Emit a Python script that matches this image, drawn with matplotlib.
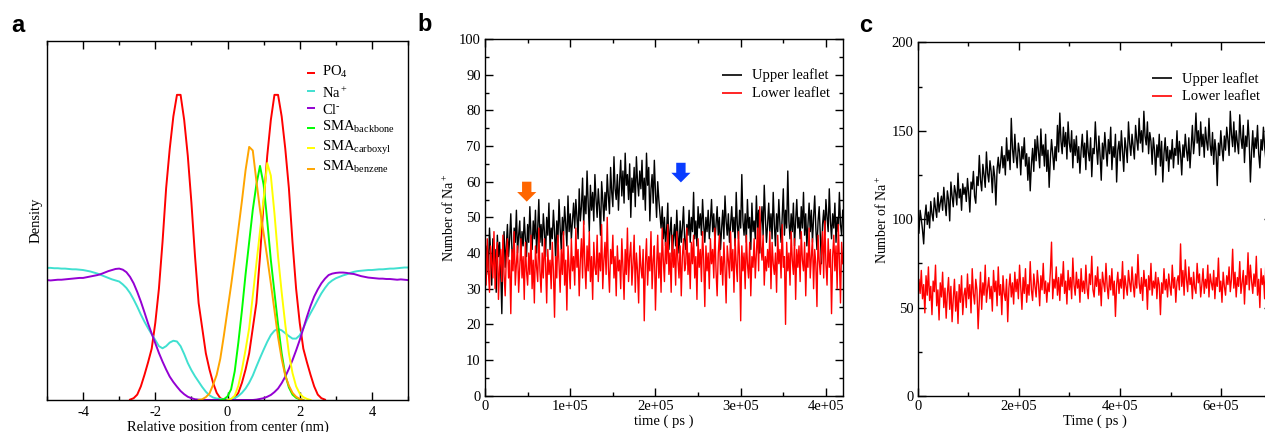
"""Three-panel figure: density profile (a) and Na+ counts per leaflet over time (b, c)."""

import matplotlib
matplotlib.use("Agg")

import matplotlib.pyplot as plt
import matplotlib.ticker as mticker
import numpy as np

plt.rcParams["font.family"] = "Liberation Serif"
plt.rcParams["mathtext.fontset"] = "custom"
plt.rcParams["mathtext.rm"] = "Liberation Serif"
plt.rcParams["mathtext.it"] = "Liberation Serif:italic"
plt.rcParams["mathtext.bf"] = "Liberation Serif:bold"
plt.rcParams["axes.unicode_minus"] = False

# ── panel a: density profiles (arbitrary units) ─────────────────────────
pos_nm = np.round(np.linspace(-5, 5, 101), 1)

na_density = [
    0.368, 0.368, 0.367, 0.367, 0.366, 0.366, 0.365, 0.364, 0.364, 0.363,
    0.362, 0.360, 0.358, 0.355, 0.352, 0.348, 0.344, 0.340, 0.336, 0.333,
    0.330, 0.322, 0.312, 0.298, 0.280, 0.260, 0.238, 0.218, 0.200, 0.183,
    0.167, 0.150, 0.144, 0.150, 0.160, 0.165, 0.163, 0.150, 0.128, 0.103,
    0.083, 0.066, 0.051, 0.036, 0.023, 0.013, 0.007, 0.004, 0.003, 0.001,
    0.001, 0.002, 0.005, 0.011, 0.020, 0.032, 0.048, 0.068, 0.093, 0.117,
    0.140, 0.162, 0.181, 0.193, 0.198, 0.194, 0.186, 0.178, 0.171, 0.171,
    0.180, 0.200, 0.223, 0.242, 0.260, 0.279, 0.297, 0.312, 0.325, 0.333,
    0.339, 0.343, 0.347, 0.350, 0.354, 0.357, 0.359, 0.360, 0.361, 0.362,
    0.362, 0.363, 0.364, 0.364, 0.365, 0.366, 0.366, 0.367, 0.368, 0.369,
    0.369,
]
cl_density = [
    0.334, 0.333, 0.334, 0.335, 0.335, 0.336, 0.337, 0.338, 0.339, 0.340,
    0.340, 0.342, 0.344, 0.346, 0.348, 0.351, 0.355, 0.359, 0.362, 0.365,
    0.366, 0.363, 0.356, 0.343, 0.325, 0.301, 0.274, 0.244, 0.213, 0.185,
    0.158, 0.131, 0.107, 0.085, 0.065, 0.050, 0.037, 0.025, 0.016, 0.009,
    0.005, 0.002, 0.001, 0.0, 0.0, 0.0, 0.0, 0.0, 0.0, 0.0,
    0.0, 0.0, 0.0, 0.0, 0.0, 0.0, 0.0, 0.0, 0.001, 0.003,
    0.005, 0.009, 0.014, 0.022, 0.032, 0.047, 0.065, 0.087, 0.111, 0.138,
    0.167, 0.199, 0.232, 0.262, 0.288, 0.308, 0.325, 0.338, 0.348, 0.352,
    0.354, 0.355, 0.355, 0.354, 0.352, 0.351, 0.348, 0.345, 0.343, 0.341,
    0.340, 0.339, 0.338, 0.338, 0.337, 0.337, 0.336, 0.335, 0.336, 0.335,
    0.334,
]

# curves that are zero outside a window: first position + values every 0.1 nm
po4_start = -2.7
po4_density = [
    0.001, 0.005, 0.015, 0.038, 0.070, 0.105, 0.143, 0.215, 0.31, 0.44,
    0.59, 0.70, 0.79, 0.85, 0.85, 0.78, 0.68, 0.55, 0.40, 0.27,
    0.20, 0.13, 0.085, 0.048, 0.02, 0.005, 0.001, 0.0, 0.001, 0.005,
    0.02, 0.048, 0.085, 0.13, 0.20, 0.27, 0.40, 0.55, 0.68, 0.78,
    0.85, 0.85, 0.79, 0.70, 0.59, 0.44, 0.31, 0.215, 0.143, 0.105,
    0.070, 0.038, 0.015, 0.005, 0.001,
]
backbone_start = -0.2
backbone_density = [
    0.0, 0.002, 0.010, 0.030, 0.080, 0.16, 0.25, 0.35, 0.44, 0.53,
    0.60, 0.652, 0.60, 0.50, 0.39, 0.30, 0.21, 0.13, 0.07, 0.035,
    0.015, 0.006, 0.002, 0.0,
]
carboxyl_start = 0.0
carboxyl_density = [
    0.0, 0.003, 0.012, 0.040, 0.085, 0.14, 0.20, 0.29, 0.38, 0.47,
    0.56, 0.66, 0.625, 0.52, 0.40, 0.30, 0.21, 0.13, 0.075, 0.038,
    0.018, 0.008, 0.003, 0.0,
]
benzene_start = -0.8
benzene_density = [
    0.0, 0.002, 0.008, 0.018, 0.042, 0.070, 0.115, 0.18, 0.25, 0.32,
    0.395, 0.475, 0.555, 0.64, 0.705, 0.695, 0.61, 0.53, 0.465, 0.397,
    0.325, 0.25, 0.175, 0.115, 0.068, 0.040, 0.020, 0.009, 0.003, 0.0,
]

density_labels = [
    r"PO$_4$", r"Na$^+$", r"Cl$^{\text{-}}$",
    r"SMA$_{\mathrm{backbone}}$", r"SMA$_{\mathrm{carboxyl}}$", r"SMA$_{\mathrm{benzene}}$",
]
density_colors = ["#FF0000", "#40E0D0", "#9400D3", "#00FF00", "#FFFF00", "#FFA500"]

# ── panel b: Na+ per leaflet, 0 - 4.2e5 ps ──────────────────────────────
b_upper = [
    45, 38, 42, 34, 47, 40, 31, 44, 37, 41, 29, 45, 39, 43, 35, 23, 40, 46, 36, 42,
    48, 39, 44, 51, 41, 37, 47, 43, 52, 40, 45, 49, 38, 46, 42, 50, 44, 39, 48, 43,
    53, 45, 41, 49, 44, 52, 40, 47, 55, 43, 48, 42, 51, 46, 39, 50, 45, 54, 41, 47,
    44, 52, 46, 38, 49, 43, 55, 47, 41, 50, 45, 53, 48, 42, 56, 46, 51, 44, 49, 54,
    47, 55, 50, 44, 58, 49, 53, 61, 48, 56, 51, 63, 54, 46, 59, 52, 57, 49, 62, 55,
    50, 58, 53, 45, 60, 55, 49, 57, 52, 62, 56, 51, 64, 57, 53, 67, 58, 55, 62, 52,
    60, 66, 56, 63, 54, 68, 59, 62, 55, 65, 50, 61, 57, 64, 53, 67, 60, 56, 63, 58,
    66, 55, 61, 52, 68, 59, 64, 49, 58, 62, 54, 66, 57, 50, 60, 55, 51, 47, 53, 44,
    50, 42, 47, 54, 41, 46, 50, 39, 44, 48, 42, 52, 45, 40, 49, 43, 47, 53, 44, 41,
    48, 45, 52, 43, 50, 46, 57, 44, 49, 42, 53, 47, 51, 45, 55, 48, 43, 50, 46, 52,
    44, 49, 55, 46, 51, 43, 48, 53, 45, 50, 41, 47, 52, 44, 56, 49, 45, 51, 43, 48,
    53, 46, 50, 42, 57, 48, 44, 52, 47, 62, 49, 45, 51, 43, 55, 47, 50, 41, 54, 46,
    49, 44, 56, 47, 52, 40, 48, 53, 45, 59, 50, 43, 48, 54, 46, 51, 44, 57, 48, 42,
    51, 46, 55, 48, 43, 50, 58, 45, 52, 47, 63, 49, 44, 51, 46, 54, 42, 49, 55, 47,
    50, 44, 53, 47, 57, 45, 51, 42, 48, 54, 46, 52, 43, 50, 56, 47, 41, 49, 53, 45,
    37, 48, 52, 45, 55, 50, 46, 58, 49, 44, 51, 47, 54, 43, 50, 46, 57, 48, 45, 52,
]
b_lower = [
    40, 31, 44, 35, 29, 42, 37, 33, 46, 30, 38, 43, 27, 36, 41, 32, 45, 34, 28, 39,
    44, 33, 38, 23, 41, 35, 46, 31, 37, 42, 29, 36, 44, 33, 39, 27, 43, 35, 31, 40,
    34, 45, 30, 38, 26, 42, 36, 32, 47, 35, 29, 40, 33, 44, 37, 26, 41, 34, 38, 30,
    43, 35, 22, 39, 33, 45, 37, 29, 41, 34, 46, 31, 38, 24, 42, 36, 30, 44, 35, 39,
    31, 47, 36, 41, 28, 38, 44, 33, 49, 37, 30, 42, 35, 46, 32, 39, 27, 43, 36, 34,
    45, 32, 40, 35, 48, 30, 38, 43, 34, 50, 36, 29, 41, 37, 45, 33, 39, 28, 42, 35,
    38, 30, 44, 36, 27, 41, 34, 47, 32, 39, 43, 31, 37, 45, 29, 40, 35, 26, 42, 36,
    33, 41, 21, 37, 44, 31, 39, 35, 46, 30, 38, 42, 24, 36, 45, 33, 40, 29, 47, 38,
    32, 43, 37, 48, 34, 40, 29, 45, 36, 41, 31, 46, 38, 33, 42, 28, 39, 44, 35, 37,
    47, 34, 40, 30, 43, 37, 45, 33, 39, 27, 44, 36, 41, 32, 46, 38, 25, 42, 35, 40,
    30, 44, 37, 41, 33, 47, 35, 28, 40, 45, 34, 39, 31, 43, 36, 26, 42, 38, 33, 46,
    35, 41, 29, 44, 37, 32, 46, 39, 21, 42, 35, 40, 30, 45, 37, 33, 43, 28, 39, 36,
    44, 33, 40, 47, 35, 53, 42, 38, 45, 31, 39, 35, 41, 36, 46, 30, 43, 37, 34, 40,
    29, 45, 37, 41, 33, 48, 36, 39, 20, 43, 35, 40, 31, 46, 38, 34, 44, 27, 41, 36,
    42, 32, 46, 38, 35, 43, 28, 40, 36, 47, 33, 39, 44, 30, 41, 37, 25, 45, 38, 34,
    40, 46, 33, 49, 37, 31, 44, 36, 41, 23, 39, 45, 35, 42, 30, 48, 38, 26, 43, 37,
]
b_time = np.linspace(0, 4.2e5, len(b_upper))

# ── panel c: Na+ per leaflet, 0 - 7e5 ps ────────────────────────────────
c_upper = [
    98, 92, 105, 100, 94, 86, 101, 108, 97, 104, 95, 110, 103, 99, 112, 106, 101, 115, 104, 109,
    113, 105, 118, 109, 102, 116, 111, 99, 121, 113, 107, 119, 115, 108, 126, 112, 117, 105, 120, 114,
    118, 110, 123, 115, 104, 121, 117, 127, 113, 109, 124, 119, 136, 122, 116, 131, 125, 118, 138, 126,
    121, 133, 127, 115, 130, 124, 108, 128, 135, 126, 132, 141, 129, 136, 125, 146, 133, 139, 128, 157,
    140, 132, 148, 136, 129, 143, 138, 125, 141, 134, 146, 130, 137, 122, 135, 116, 131, 140, 127, 145,
    133, 147, 138, 129, 151, 136, 142, 130, 148, 127, 139, 118, 134, 145, 137, 128, 141, 133, 153, 138,
    160, 144, 137, 152, 141, 149, 134, 155, 143, 138, 150, 129, 145, 136, 147, 132, 141, 126, 139, 148,
    135, 143, 128, 150, 138, 133, 146, 124, 140, 137, 155, 141, 131, 147, 136, 122, 143, 134, 149, 139,
    130, 145, 137, 152, 128, 141, 135, 148, 121, 139, 144, 133, 150, 138, 127, 146, 140, 132, 155, 143,
    136, 148, 141, 134, 153, 145, 139, 157, 143, 150, 138, 161, 147, 142, 155, 137, 149, 144, 131, 146,
    139, 125, 142, 135, 148, 130, 144, 121, 137, 146, 133, 141, 127, 139, 134, 145, 129, 140, 136, 150,
    131, 144, 137, 125, 142, 135, 148, 139, 133, 146, 129, 141, 153, 137, 145, 160, 143, 150, 136, 155,
    141, 148, 135, 152, 144, 139, 157, 142, 136, 149, 131, 145, 138, 119, 143, 136, 150, 140, 133, 147,
    139, 152, 145, 136, 161, 148, 141, 155, 138, 150, 143, 137, 159, 146, 140, 153, 132, 147, 141, 156,
    144, 121, 138, 150, 135, 146, 140, 153, 137, 129, 145, 139, 152, 141, 134, 148, 138, 143, 136, 149,
]
c_lower = [
    52, 66, 58, 71, 55, 63, 47, 68, 57, 73, 54, 62, 46, 65, 59, 74, 51, 60, 43, 64,
    56, 70, 50, 61, 44, 58, 67, 49, 62, 42, 55, 66, 48, 59, 41, 63, 53, 68, 46, 57,
    61, 50, 69, 55, 63, 47, 72, 58, 52, 66, 60, 38, 54, 70, 49, 64, 57, 74, 53, 61,
    67, 55, 62, 48, 71, 59, 65, 51, 73, 57, 63, 46, 68, 58, 54, 66, 42, 61, 69, 56,
    64, 52, 70, 59, 66, 55, 74, 61, 49, 67, 58, 72, 53, 63, 57, 76, 60, 54, 69, 62,
    56, 71, 63, 51, 68, 60, 75, 58, 65, 53, 64, 59, 70, 87, 55, 66, 61, 73, 57, 67,
    54, 69, 62, 76, 58, 65, 52, 71, 60, 67, 55, 78, 63, 57, 70, 61, 66, 53, 72, 59,
    65, 58, 74, 61, 55, 69, 63, 79, 60, 56, 68, 62, 73, 57, 66, 51, 70, 64, 59, 75,
    62, 55, 68, 60, 72, 57, 65, 45, 63, 70, 58, 66, 61, 76, 55, 68, 62, 57, 71, 64,
    59, 73, 63, 56, 69, 61, 80, 64, 58, 67, 54, 71, 62, 66, 49, 68, 60, 75, 57, 65,
    61, 70, 55, 67, 63, 46, 64, 58, 72, 60, 66, 56, 69, 62, 57, 74, 61, 67, 53, 65,
    68, 60, 86, 62, 71, 57, 77, 66, 59, 73, 63, 67, 55, 70, 61, 58, 75, 64, 69, 56,
    63, 72, 58, 66, 61, 74, 56, 69, 64, 60, 71, 55, 67, 62, 78, 59, 65, 53, 70, 62,
    57, 68, 63, 73, 59, 66, 83, 61, 70, 56, 67, 62, 76, 58, 64, 71, 52, 68, 63, 81,
    60, 74, 65, 58, 69, 62, 79, 57, 66, 50, 72, 63, 68, 55, 75, 61, 67, 59, 71, 64,
]
c_time = np.linspace(0, 7e5, len(c_upper))

leaflet_labels = ["Upper leaflet", "Lower leaflet"]
leaflet_colors = ["#000000", "#FF0000"]

# arrows in panel b: (time, top, tip)
arrow_orange = (0.49e5, 60.0, 54.4)
arrow_blue = (2.30e5, 65.3, 59.8)


def style_ticks(ax, left=True):
    ax.tick_params(which="both", direction="in", top=True, right=left,
                   left=left, width=1.0, labelsize=10.5, pad=3)
    ax.tick_params(which="major", length=6)
    ax.tick_params(which="minor", length=3.2)
    for s in ax.spines.values():
        s.set_linewidth(1.0)


def sci_fmt(v, _):
    return "0" if v == 0 else f"{v:.0e}"


def manual_legend(ax, labels, colors, line_y, text_y, x0, x1, xt, lw, fs):
    for lab, col, ly, ty in zip(labels, colors, line_y, text_y):
        ax.plot([x0, x1], [ly, ly], color=col, lw=lw, transform=ax.transAxes,
                clip_on=False, solid_capstyle="butt")
        ax.text(xt, ty, lab, transform=ax.transAxes, fontsize=fs,
                ha="left", va="baseline")


fig = plt.figure(figsize=(12.65, 4.32), dpi=100)

# ── a ─────────────────────────────────────────────────────────────────
ax_a = fig.add_axes([0.03715, 0.0741, 0.2854, 0.831])
curves = [
    (np.round(po4_start + 0.1 * np.arange(len(po4_density)), 1), po4_density),
    (pos_nm, na_density),
    (pos_nm, cl_density),
    (np.round(backbone_start + 0.1 * np.arange(len(backbone_density)), 1), backbone_density),
    (np.round(carboxyl_start + 0.1 * np.arange(len(carboxyl_density)), 1), carboxyl_density),
    (np.round(benzene_start + 0.1 * np.arange(len(benzene_density)), 1), benzene_density),
]
for (xs, ys), col in zip(curves, density_colors):
    ax_a.plot(xs, ys, color=col, lw=1.4)
ax_a.set_xlim(-5, 5)
ax_a.set_ylim(0, 1)
ax_a.xaxis.set_major_locator(mticker.MultipleLocator(2))
ax_a.xaxis.set_minor_locator(mticker.MultipleLocator(1))
ax_a.set_yticks([])
style_ticks(ax_a, left=False)
ax_a.tick_params(axis="x", pad=4)
ax_a.set_xlabel("Relative position from center (nm)", fontsize=10.5, labelpad=1)
ax_a.set_ylabel("Density", fontsize=10.5, labelpad=3)
manual_legend(ax_a, density_labels, density_colors,
              [0.912, 0.862, 0.8125, 0.7585, 0.701, 0.643],
              [0.9025, 0.841, 0.797, 0.750, 0.6936, 0.638],
              0.719, 0.742, 0.761, 1.4, 10.5)

# ── b ─────────────────────────────────────────────────────────────────
ax_b = fig.add_axes([0.3834, 0.0840, 0.2828, 0.8257])
for ys, col in zip([b_upper, b_lower], leaflet_colors):
    ax_b.plot(b_time, ys, color=col, lw=1.0)
for (t, top, tip), col in [(arrow_orange, "#FF6600"), (arrow_blue, "#0A3CFF")]:
    ax_b.arrow(t, top, 0, tip - top, width=1.1e4, head_width=2.25e4,
               head_length=2.7, length_includes_head=True, color=col, lw=0)
ax_b.set_xlim(0, 4.2e5)
ax_b.set_ylim(0, 100)
ax_b.xaxis.set_major_locator(mticker.MultipleLocator(1e5))
ax_b.xaxis.set_minor_locator(mticker.MultipleLocator(0.5e5))
ax_b.xaxis.set_major_formatter(mticker.FuncFormatter(sci_fmt))
ax_b.yaxis.set_major_locator(mticker.MultipleLocator(10))
ax_b.yaxis.set_minor_locator(mticker.MultipleLocator(5))
style_ticks(ax_b)
ax_b.set_xlabel("time ( ps )", fontsize=10.5, labelpad=1)
ax_b.set_ylabel(r"Number of Na$^+$", fontsize=10, labelpad=1.5)
manual_legend(ax_b, leaflet_labels, leaflet_colors, [0.899, 0.8486], [0.888, 0.838],
              0.6626, 0.7185, 0.7465, 1.2, 10.5)

# ── c ─────────────────────────────────────────────────────────────────
ax_c = fig.add_axes([0.7255, 0.0833, 0.2798, 0.8188])
for ys, col in zip([c_upper, c_lower], leaflet_colors):
    ax_c.plot(c_time, ys, color=col, lw=1.0)
ax_c.set_xlim(0, 7e5)
ax_c.set_ylim(0, 200)
ax_c.xaxis.set_major_locator(mticker.MultipleLocator(2e5))
ax_c.xaxis.set_minor_locator(mticker.MultipleLocator(1e5))
ax_c.xaxis.set_major_formatter(mticker.FuncFormatter(sci_fmt))
ax_c.yaxis.set_major_locator(mticker.MultipleLocator(50))
ax_c.yaxis.set_minor_locator(mticker.MultipleLocator(25))
style_ticks(ax_c)
ax_c.set_xlabel("Time ( ps )", fontsize=10.5, labelpad=1)
ax_c.set_ylabel(r"Number of Na$^+$", fontsize=10, labelpad=1.5)
manual_legend(ax_c, leaflet_labels, leaflet_colors, [0.899, 0.848], [0.886, 0.837],
              0.662, 0.7187, 0.7468, 1.2, 10.5)

# panel letters
for x, y, letter in [(0.0085, 0.9252, "a"), (0.3304, 0.9282, "b"), (0.679, 0.9266, "c")]:
    fig.text(x, y, letter, fontsize=17, fontweight="bold", family="Liberation Sans",
             ha="left", va="baseline")

fig.savefig("out.png", dpi=100)
